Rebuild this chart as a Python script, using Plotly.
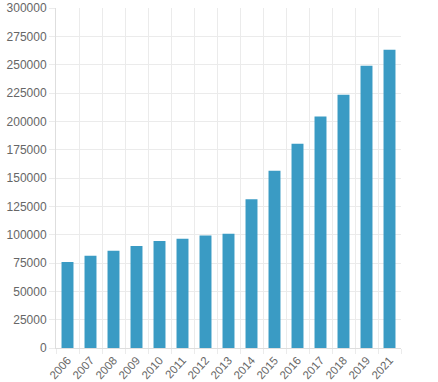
import plotly.graph_objects as go

years = ["2006", "2007", "2008", "2009", "2010", "2011", "2012", "2013",
         "2014", "2015", "2016", "2017", "2018", "2019", "2021"]
values = [75800, 81500, 85700, 90100, 94500, 96500, 99200, 100700,
          131300, 156300, 180200, 204300, 223400, 249000, 263200]
y_ticks = [0, 25000, 50000, 75000, 100000, 125000, 150000, 175000,
           200000, 225000, 250000, 275000, 300000]

fig = go.Figure(go.Bar(
    x=years, y=values,
    marker=dict(color="#3a9bc4", line=dict(width=0)),
    hoverinfo="x+y",
))

grid = "#ebebeb"
fig.update_layout(
    width=438, height=382,
    margin=dict(l=56, r=37, t=8, b=34, autoexpand=False),
    paper_bgcolor="white", plot_bgcolor="white",
    bargap=0.48,
    showlegend=False,
    font=dict(family="Liberation Sans, Arial, sans-serif", size=12, color="#666666"),
)
fig.update_xaxes(
    type="category", tickson="boundaries",
    showgrid=True, gridcolor=grid, gridwidth=1,
    ticks="outside", ticklen=5, tickcolor=grid,
    showline=True, linecolor="#dedede", linewidth=1,
    tickangle=-48, automargin=False,
    tickfont=dict(size=11.5, color="#666666"),
)
fig.update_yaxes(
    range=[0, 300000], tickvals=y_ticks, ticktext=[str(v) for v in y_ticks],
    showgrid=True, gridcolor=grid, gridwidth=1,
    ticks="outside", ticklen=6, tickcolor=grid,
    showline=True, linecolor="#dedede", linewidth=1,
    zeroline=False, automargin=False,
    tickfont=dict(size=12, color="#666666"),
)

fig.write_html(
    "out.html",
    config={"displayModeBar": False},
    post_script="document.body.style.margin='0';document.body.style.overflow='hidden';",
)
